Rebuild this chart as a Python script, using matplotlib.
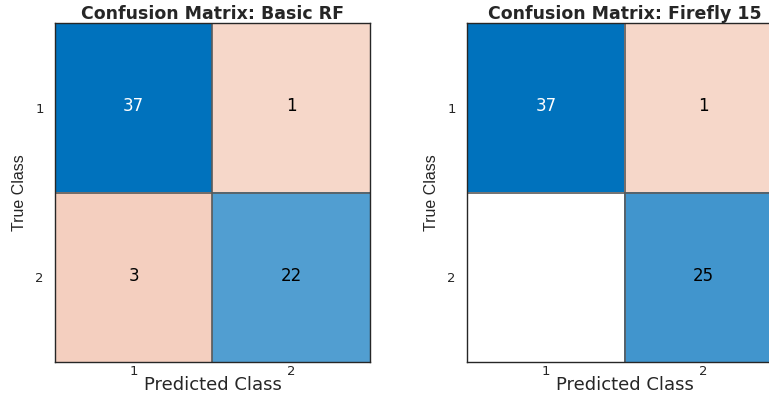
import matplotlib
matplotlib.use('Agg')
import matplotlib.pyplot as plt
import numpy as np
from matplotlib.colors import LinearSegmentedColormap, Normalize

#### Results ####
classes = ['1', '2']
cm_basic = [[37, 1], [3, 22]]
cm_firefly = [[37, 1], [0, 25]]
titles = ['Confusion Matrix: Basic RF', 'Confusion Matrix: Firefly 15']

# diagonal cells shade to blue, off-diagonal cells shade to orange
cmap_diag = LinearSegmentedColormap.from_list('diag', ['#FFFFFF', '#0072BD'])
cmap_off = LinearSegmentedColormap.from_list('off', ['#FFFFFF', '#D95319'])

text_col = '#262626'
wide_font = ['DejaVu Sans']
narrow_font = ['Liberation Sans', 'DejaVu Sans']


def draw_confusion(ax, cm, title):
    cm = np.array(cm, dtype=float)
    n = cm.shape[0]
    norm = Normalize(vmin=-10, vmax=cm.max())
    eye = np.eye(n, dtype=bool)
    diag = np.ma.masked_where(~eye | (cm == 0), cm)
    off = np.ma.masked_where(eye | (cm == 0), cm)
    ext = (-0.5, n - 0.5, n - 0.5, -0.5)
    ax.imshow(np.zeros_like(cm), cmap='gray', vmin=-1, vmax=0, extent=ext, aspect='auto')
    ax.imshow(diag, cmap=cmap_diag, norm=norm, extent=ext, aspect='auto')
    ax.imshow(off, cmap=cmap_off, norm=norm, extent=ext, aspect='auto')

    for k in range(1, n):
        ax.axhline(k - 0.5, color='#5a5a5a', lw=1.2)
        ax.axvline(k - 0.5, color='#5a5a5a', lw=1.2)

    for i in range(n):
        for j in range(n):
            v = cm[i, j]
            if v == 0:
                continue
            c = 'white' if (i == j and norm(v) > 0.85) else 'black'
            ax.text(j, i - 0.01, str(int(v)), ha='center', va='center', color=c,
                    fontsize=12, family=wide_font)

    ax.set_xticks(range(n))
    ax.set_yticks(range(n))
    ax.set_xticklabels(classes, family=wide_font, fontsize=9.5, color=text_col)
    ax.set_yticklabels(classes, family=wide_font, fontsize=9.5, color=text_col)
    ax.tick_params(axis='x', length=0, pad=2)
    ax.tick_params(axis='y', length=0, pad=8)
    ax.set_xlabel('Predicted Class', family=wide_font, fontsize=13, color=text_col, labelpad=-1)
    ax.set_ylabel('True Class', family=narrow_font, fontsize=11.5, color=text_col, labelpad=6)
    ax.set_title(title, family=wide_font, fontsize=12.5, fontweight='bold', color=text_col, pad=2)
    for s in ax.spines.values():
        s.set_color('#262626')
        s.set_linewidth(1.0)


fig = plt.figure(figsize=(7.69, 3.97), dpi=100)
ax1 = fig.add_axes([0.0715, 0.088, 0.4096, 0.854])
ax2 = fig.add_axes([0.6073, 0.088, 0.4096, 0.854])

draw_confusion(ax1, cm_basic, titles[0])
draw_confusion(ax2, cm_firefly, titles[1])

fig.savefig('out.png', dpi=100)
